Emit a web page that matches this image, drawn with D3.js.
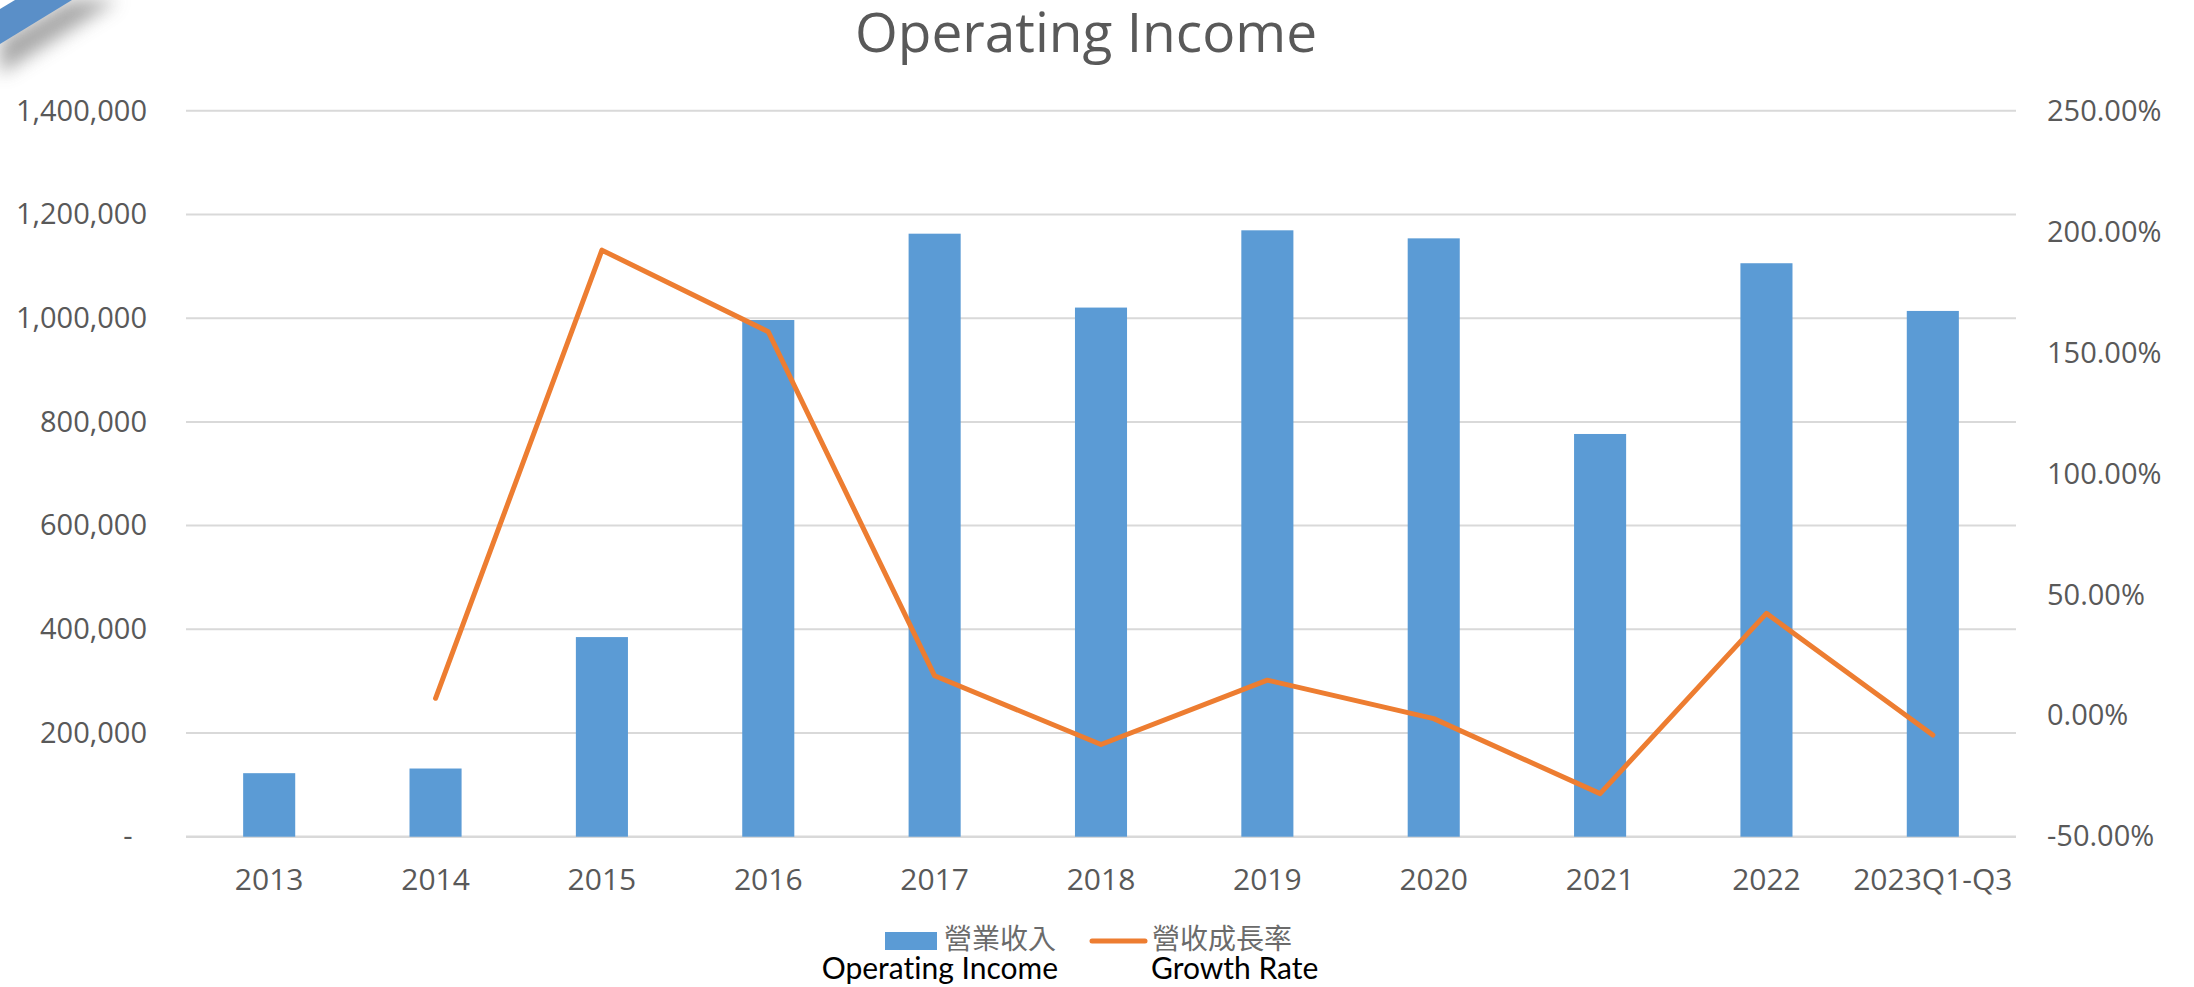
<!DOCTYPE html>
<html>
<head>
<meta charset="utf-8">
<script src="https://cdn.jsdelivr.net/npm/d3@7"></script>
<style>
    body { margin: 0; background: #ffffff; }
    svg { display: block; }
    text { font-variant-ligatures: none; }
    .axis text { font-family: "Open Sans", sans-serif; font-size: 29px; fill: #595959; }
    .axis path, .axis line { display: none; }
</style>
</head>
<body>
<svg id="chart" width="2194" height="987"></svg>
<script>
// Chart data
const categories = ["2013", "2014", "2015", "2016", "2017", "2018", "2019", "2020", "2021", "2022", "2023Q1-Q3"];
const incomeValues = [122500, 131500, 385000, 996500, 1163000, 1020500, 1169500, 1154000, 776700, 1106000, 1014000];
const growthValues = [null, 7.2, 192.4, 158.7, 16.5, -11.9, 14.7, -1.2, -32.2, 42.3, -8.0];
const leftTicks = [0, 200000, 400000, 600000, 800000, 1000000, 1200000, 1400000];
const rightTicks = [-50, 0, 50, 100, 150, 200, 250];

const svg = d3.select("#chart");

// Plot area
const plot = { left: 186, right: 2016, top: 110.8, bottom: 836.7 };

const x = d3.scaleBand()
    .domain(categories)
    .range([plot.left, plot.right])
    .padding(0);

const yLeft = d3.scaleLinear()
    .domain([0, 1400000])
    .range([plot.bottom, plot.top]);

const yRight = d3.scaleLinear()
    .domain([-50, 250])
    .range([plot.bottom, plot.top]);

// Corner ribbon decoration
const defs = svg.append("defs");
defs.append("filter")
    .attr("id", "blur")
    .attr("x", "-50%").attr("y", "-50%")
    .attr("width", "200%").attr("height", "200%")
    .append("feGaussianBlur")
    .attr("stdDeviation", 9);

svg.append("polygon")
    .attr("points", "0,40 70,0 118,0 0,74")
    .attr("fill", "#8a8a8a")
    .attr("opacity", 0.75)
    .attr("filter", "url(#blur)");

svg.append("polygon")
    .attr("points", "0,9 15,0 72,0 0,44")
    .attr("fill", "#5a8fc8");

// Title
svg.append("text")
    .attr("x", 1086)
    .attr("y", 52)
    .attr("text-anchor", "middle")
    .attr("font-family", "Open Sans, sans-serif")
    .attr("font-size", "55px")
    .attr("fill", "#595959")
    .text("Operating Income");

// Gridlines
svg.append("g")
    .selectAll("line")
    .data(leftTicks)
    .enter()
    .append("line")
    .attr("x1", plot.left)
    .attr("x2", plot.right)
    .attr("y1", d => yLeft(d))
    .attr("y2", d => yLeft(d))
    .attr("stroke", "#d9d9d9")
    .attr("stroke-width", d => d === 0 ? 2.5 : 2);

// Bars
const barWidth = x.bandwidth() * 0.313;
svg.append("g")
    .selectAll("rect")
    .data(incomeValues)
    .enter()
    .append("rect")
    .attr("x", (d, i) => x(categories[i]) + (x.bandwidth() - barWidth) / 2)
    .attr("y", d => yLeft(d))
    .attr("width", barWidth)
    .attr("height", d => yLeft(0) - yLeft(d))
    .attr("fill", "#5b9bd5");

// Growth line
const line = d3.line()
    .defined(d => d != null)
    .x((d, i) => x(categories[i]) + x.bandwidth() / 2)
    .y(d => yRight(d));

svg.append("path")
    .datum(growthValues)
    .attr("fill", "none")
    .attr("stroke", "#ed7d31")
    .attr("stroke-width", 5)
    .attr("stroke-linejoin", "round")
    .attr("stroke-linecap", "round")
    .attr("d", line);

// Left axis
const leftAxis = svg.append("g")
    .attr("class", "axis")
    .attr("transform", `translate(${plot.left},0)`)
    .call(d3.axisLeft(yLeft)
        .tickValues(leftTicks)
        .tickSize(0)
        .tickPadding(39)
        .tickFormat(d => d === 0 ? "-" : d3.format(",")(d)));
leftAxis.selectAll("text")
    .filter(d => d === 0)
    .attr("dx", "-0.5em");

// Right axis
svg.append("g")
    .attr("class", "axis")
    .attr("transform", `translate(${plot.right},0)`)
    .call(d3.axisRight(yRight)
        .tickValues(rightTicks)
        .tickSize(0)
        .tickPadding(31)
        .tickFormat(d => d.toFixed(2) + "%"));

// Bottom axis
const bottomAxis = svg.append("g")
    .attr("class", "axis")
    .attr("transform", `translate(0,${plot.bottom})`)
    .call(d3.axisBottom(x).tickSize(0).tickPadding(0));
bottomAxis.selectAll("text")
    .attr("dy", null)
    .attr("y", 53)
    .style("font-size", "30px");

// Legend
const legend = svg.append("g");

legend.append("rect")
    .attr("x", 885)
    .attr("y", 932)
    .attr("width", 52)
    .attr("height", 18)
    .attr("fill", "#5b9bd5");

legend.append("text")
    .attr("x", 944)
    .attr("y", 949)
    .attr("font-family", "Noto Sans CJK TC, sans-serif")
    .attr("font-size", "28px")
    .attr("fill", "#6b6b6b")
    .text("營業收入");

legend.append("text")
    .attr("x", 1058)
    .attr("y", 979)
    .attr("text-anchor", "end")
    .attr("font-family", "Lato, sans-serif")
    .attr("font-size", "30px")
    .attr("fill", "#000000")
    .text("Operating Income");

legend.append("line")
    .attr("x1", 1092)
    .attr("x2", 1145)
    .attr("y1", 941)
    .attr("y2", 941)
    .attr("stroke", "#ed7d31")
    .attr("stroke-width", 5)
    .attr("stroke-linecap", "round");

legend.append("text")
    .attr("x", 1152)
    .attr("y", 949)
    .attr("font-family", "Noto Sans CJK TC, sans-serif")
    .attr("font-size", "28px")
    .attr("fill", "#6b6b6b")
    .text("營收成長率");

legend.append("text")
    .attr("x", 1151)
    .attr("y", 979)
    .attr("font-family", "Lato, sans-serif")
    .attr("font-size", "30px")
    .attr("fill", "#000000")
    .text("Growth Rate");
</script>
</body>
</html>
